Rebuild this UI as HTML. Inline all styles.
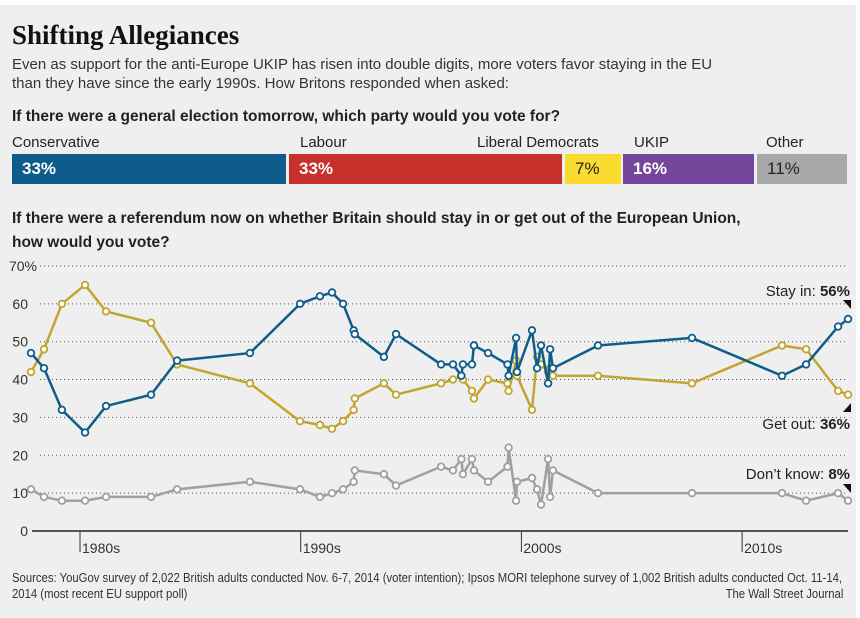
<!DOCTYPE html>
<html><head><meta charset="utf-8"><style>
body{margin:0;width:860px;height:618px;background:#fff;overflow:hidden;font-family:"Liberation Sans",sans-serif;color:#222}
#panel{position:absolute;left:0;top:5px;width:856px;height:613px;background:#efefef}
.t{position:absolute;white-space:nowrap}
.bar{position:absolute;top:154px;height:30px;font-weight:bold;font-size:17px;line-height:30px;padding-left:10px;box-sizing:border-box}
.lbl{position:absolute;top:134px;font-size:15px;color:#222}
.foot{position:absolute;font-size:13px;color:#333;white-space:nowrap;transform:scaleX(0.87)}
</style></head><body>
<div id="panel"></div>
<div class="t" style="left:12px;top:20px;font:bold 27px 'Liberation Serif',serif;color:#111">Shifting Allegiances</div>
<div class="t" style="left:12px;top:55px;font-size:15px;line-height:19px;color:#333">Even as support for the anti-Europe UKIP has risen into double digits, more voters favor staying in the EU<br>than they have since the early 1990s. How Britons responded when asked:</div>
<div class="t" style="left:12px;top:108px;font-size:15.5px;font-weight:bold;color:#222">If there were a general election tomorrow, which party would you vote for?</div>
<div class="lbl" style="left:12px">Conservative</div>
<div class="lbl" style="left:300px">Labour</div>
<div class="lbl" style="left:477px">Liberal Democrats</div>
<div class="lbl" style="left:634px">UKIP</div>
<div class="lbl" style="left:766px">Other</div>
<div class="bar" style="left:12px;width:274px;background:#0d5c8c;color:#fff">33%</div>
<div class="bar" style="left:289px;width:273px;background:#c8302c;color:#fff">33%</div>
<div class="bar" style="left:565px;width:56px;background:#f9dc2d;color:#222;font-weight:normal;padding-left:10px">7%</div>
<div class="bar" style="left:623px;width:131px;background:#74459a;color:#fff">16%</div>
<div class="bar" style="left:757px;width:90px;background:#a8a8a8;color:#222;font-weight:normal">11%</div>
<div class="t" style="left:12px;top:207px;font-size:15.5px;font-weight:bold;line-height:24px;color:#222">If there were a referendum now on whether Britain should stay in or get out of the European Union,<br>how would you vote?</div>
<svg id="chart" width="860" height="618" style="position:absolute;left:0;top:0"></svg>
<div class="foot" style="left:12px;top:570px;line-height:16px;transform-origin:left top">Sources: YouGov survey of 2,022 British adults conducted Nov. 6-7, 2014 (voter intention); Ipsos MORI telephone survey of 1,002 British adults conducted Oct. 11-14,<br>2014 (most recent EU support poll)</div>
<div class="foot" style="right:17px;top:586px;line-height:16px;transform-origin:right top">The Wall Street Journal</div>
<script>
const dates=[1977.78,1978.37,1979.18,1980.23,1981.18,1983.22,1984.40,1987.70,1989.97,1990.87,1991.42,1991.92,1992.40,1992.45,1993.77,1994.32,1996.36,1996.90,1997.28,1997.35,1997.76,1997.85,1998.49,1999.37,1999.42,1999.76,1999.80,2000.48,2000.71,2000.89,2001.21,2001.30,2001.43,2003.47,2007.73,2011.81,2012.90,2014.35,2014.80];
const stayIn=[47,43,32,26,33,36,45,47,60,62,63,60,53,52,46,52,44,44,41,44,44,49,47,44,41,51,42,53,43,49,39,48,43,49,51,41,44,54,56];
const getOut=[42,48,60,65,58,55,44,39,29,28,27,29,32,35,39,36,39,40,41,40,37,35,40,39,37,45,41,32,46,44,42,43,41,41,39,49,48,37,36];
const dontKnow=[11,9,8,8,9,9,11,13,11,9,10,11,13,16,15,12,17,16,19,15,19,16,13,17,22,8,13,14,11,7,19,9,16,10,10,10,8,10,8];
const yTicks=[0,10,20,30,40,50,60,70];
const yTickLabels=["0","10","20","30","40","50","60","70%"];
const decades=[1980,1990,2000,2010];
const decadeLabels=["1980s","1990s","2000s","2010s"];
const NS="http://www.w3.org/2000/svg";
const svg=document.getElementById('chart');
const x=d=>80+(d-1980)*22.07;
const y=v=>531-v*3.786;
function mk(tag,attrs,parent){const e=document.createElementNS(NS,tag);for(const k in attrs)e.setAttribute(k,attrs[k]);(parent||svg).appendChild(e);return e;}
yTicks.forEach((v,i)=>{
  if(v>0){const g=mk('line',{x1:40,x2:848,y1:y(v),y2:y(v),stroke:'#555','stroke-width':1,'stroke-dasharray':'1,3'});
  
  }
  const t=mk('text',{x:v==70?37:28,y:y(v)+5,'text-anchor':'end','font-size':14,fill:'#333','font-family':'Liberation Sans'});
  t.textContent=yTickLabels[i];
  
  
});
const ax=mk('line',{x1:32,x2:848,y1:531,y2:531,stroke:'#555','stroke-width':2});


decades.forEach((d,i)=>{
  const tk=mk('line',{x1:x(d),x2:x(d),y1:531,y2:552,stroke:'#333','stroke-width':1});
  
  
  const t=mk('text',{x:x(d)+2,y:553,'font-size':14,fill:'#333','font-family':'Liberation Sans'});
  t.textContent=decadeLabels[i];
  
  
});
function series(vals,color,name){
  const p=mk('polyline',{points:vals.map((v,i)=>x(dates[i])+','+y(v)).join(' '),fill:'none',stroke:color,'stroke-width':2.5,'stroke-linejoin':'round'});
  
  
  vals.forEach((v,i)=>{
    const c=mk('circle',{cx:x(dates[i]),cy:y(v),r:3.3,fill:'#fff',stroke:color,'stroke-width':1.8});
    
    
  });
}
series(dontKnow,'#a0a0a0','dont-know');
series(getOut,'#c2a531','get-out');
series(stayIn,'#0f5d8a','stay-in');
function label(txt,val,ly,name,tri){
  const t=mk('text',{x:850,y:ly,'text-anchor':'end','font-size':15,fill:'#222','font-family':'Liberation Sans'});
  t.innerHTML=txt+' <tspan font-weight="bold">'+val+'</tspan>';
  
  
  const p=mk('polygon',{points:tri,fill:'#111'});
  
  
}
label('Stay in:','56%',296,'stay-in-label','843,300 851,300 851,309');
label('Get out:','36%',429,'get-out-label','843,412 851,412 851,403');
label('Don’t know:','8%',479,'dont-know-label','843,484 851,484 851,493');
</script>
</body></html>
